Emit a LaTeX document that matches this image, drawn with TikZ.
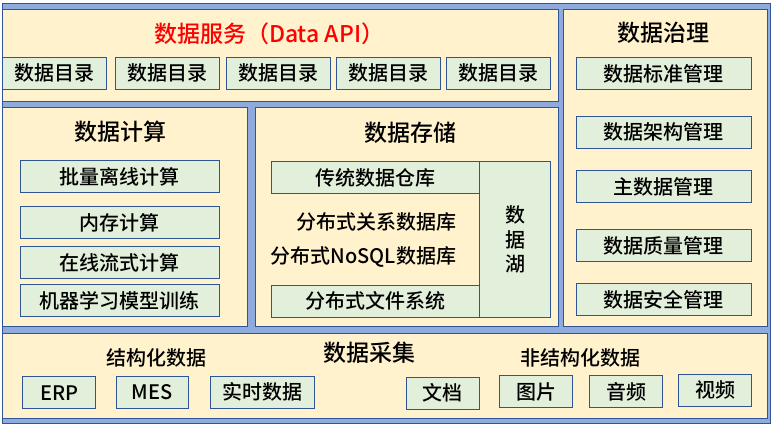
\documentclass[tikz,border=0pt]{standalone}
\usepackage{fontspec}
\setmainfont{Noto Sans CJK SC}[UprightFont={* Medium}]
\usetikzlibrary{positioning}
\definecolor{FrameBlue}{HTML}{8FAADC}
\definecolor{EdgeBlue}{HTML}{2F5597}
\definecolor{PanelCream}{HTML}{FFF2CC}
\definecolor{BoxGreen}{HTML}{E2EFDA}
\definecolor{ApiRed}{HTML}{FF0000}

\begin{document}
\begin{tikzpicture}[x=1pt, y=-1pt,
  every node/.style={font=\fontsize{20}{24}\selectfont, inner sep=0pt, outer sep=0pt},
  frame/.style={draw=EdgeBlue, line width=0.9pt, fill=FrameBlue, rectangle},
  panel/.style={draw=EdgeBlue, line width=0.9pt, fill=PanelCream, rectangle},
  item/.style={draw=EdgeBlue, line width=0.9pt, fill=BoxGreen, rectangle,
               align=center, minimum height=32pt},
  heading/.style={font=\fontsize{23}{26}\selectfont},
  sub/.style={font=\fontsize{20}{24}\selectfont}]

  \useasboundingbox (0,0) rectangle (771,426);

  % ===== outer blue frame =====
  \node[frame, minimum width=768pt, minimum height=420pt] (fr) at (386,213) {};

  % ===== panels =====
  \node[panel, minimum width=555.5pt, minimum height=91.5pt]  (srv)   at (280.25,55.25) {};
  \node[panel, minimum width=204pt,   minimum height=317pt]   (gov)   at (665,168) {};
  \node[panel, minimum width=244.5pt, minimum height=219.5pt] (calc)  at (124.75,216.75) {};
  \node[panel, minimum width=303pt,   minimum height=219.5pt] (store) at (406.5,216.75) {};
  \node[panel, minimum width=764.5pt, minimum height=85pt]    (coll)  at (384.75,375.5) {};

  % ===== data service (top) =====
  \node[heading, text=ApiRed, anchor=west] (srvt) at (154,34) {数据服务（Data API）};
  \foreach \cx [count=\i] in {54.5,167.4,278,388.3,498.3}
    \node[item, minimum width=104pt] (cat\i) at (\cx,73.3) {数据目录};

  % ===== data governance (right) =====
  \node[heading] (govt) at (663,33) {数据治理};
  \node[item, minimum width=175.7pt] (std)  at (663.9,73.7)  {数据标准管理};
  \node[item, minimum width=175.7pt] (arch) at (663.9,132)   {数据架构管理};
  \node[item, minimum width=175.7pt] (mdm)  at (663.9,186.9) {主数据管理};
  \node[item, minimum width=175.7pt] (qual) at (663.9,245.4) {数据质量管理};
  \node[item, minimum width=175.7pt] (sec)  at (663.9,299.5) {数据安全管理};

  % ===== data computing (left) =====
  \node[heading] (calct) at (120,132) {数据计算};
  \node[item, minimum width=199.7pt] (batch)  at (119.8,176.5) {批量离线计算};
  \node[item, minimum width=199.7pt] (mem)    at (119.8,222.5) {内存计算};
  \node[item, minimum width=199.7pt] (stream) at (119.8,262.7) {在线流式计算};
  \node[item, minimum width=199.7pt] (ml)     at (119.8,300.5) {机器学习模型训练};

  % ===== data storage (middle) =====
  \node[heading] (storet) at (410,133) {数据存储};
  \node[item, minimum width=208.3pt] (dw)   at (375.2,177.5) {传统数据仓库};
  \node[item, minimum width=208.3pt] (dfs)  at (375.2,301.3) {分布式文件系统};
  \node[item, minimum width=71.4pt, minimum height=155.6pt,
        font=\fontsize{20}{24.5}\selectfont] (lake) at (515,239.5) {数\\据\\湖};
  \node[sub, anchor=east] (rdb)   at (456,222) {分布式关系数据库};
  \node[sub, anchor=east] (nosql) at (456,257) {分布式NoSQL数据库};

  % ===== data collection (bottom) =====
  \node[heading] (collt) at (369,353) {数据采集};
  \node[sub] (struct)   at (156,358) {结构化数据};
  \node[sub] (unstruct) at (580,358) {非结构化数据};
  \node[item, minimum width=73pt]    (erp)  at (59.2,392.7)  {ERP};
  \node[item, minimum width=72.7pt]  (mes)  at (152.3,392.5) {MES};
  \node[item, minimum width=104.4pt] (rt)   at (262.5,392.3) {实时数据};
  \node[item, minimum width=73pt]    (doc)  at (442.8,393)   {文档};
  \node[item, minimum width=73.4pt]  (img)  at (536,391.5)   {图片};
  \node[item, minimum width=73.4pt]  (aud)  at (626,391.8)   {音频};
  \node[item, minimum width=73.4pt]  (vid)  at (715,390.2)   {视频};

\end{tikzpicture}
\end{document}
